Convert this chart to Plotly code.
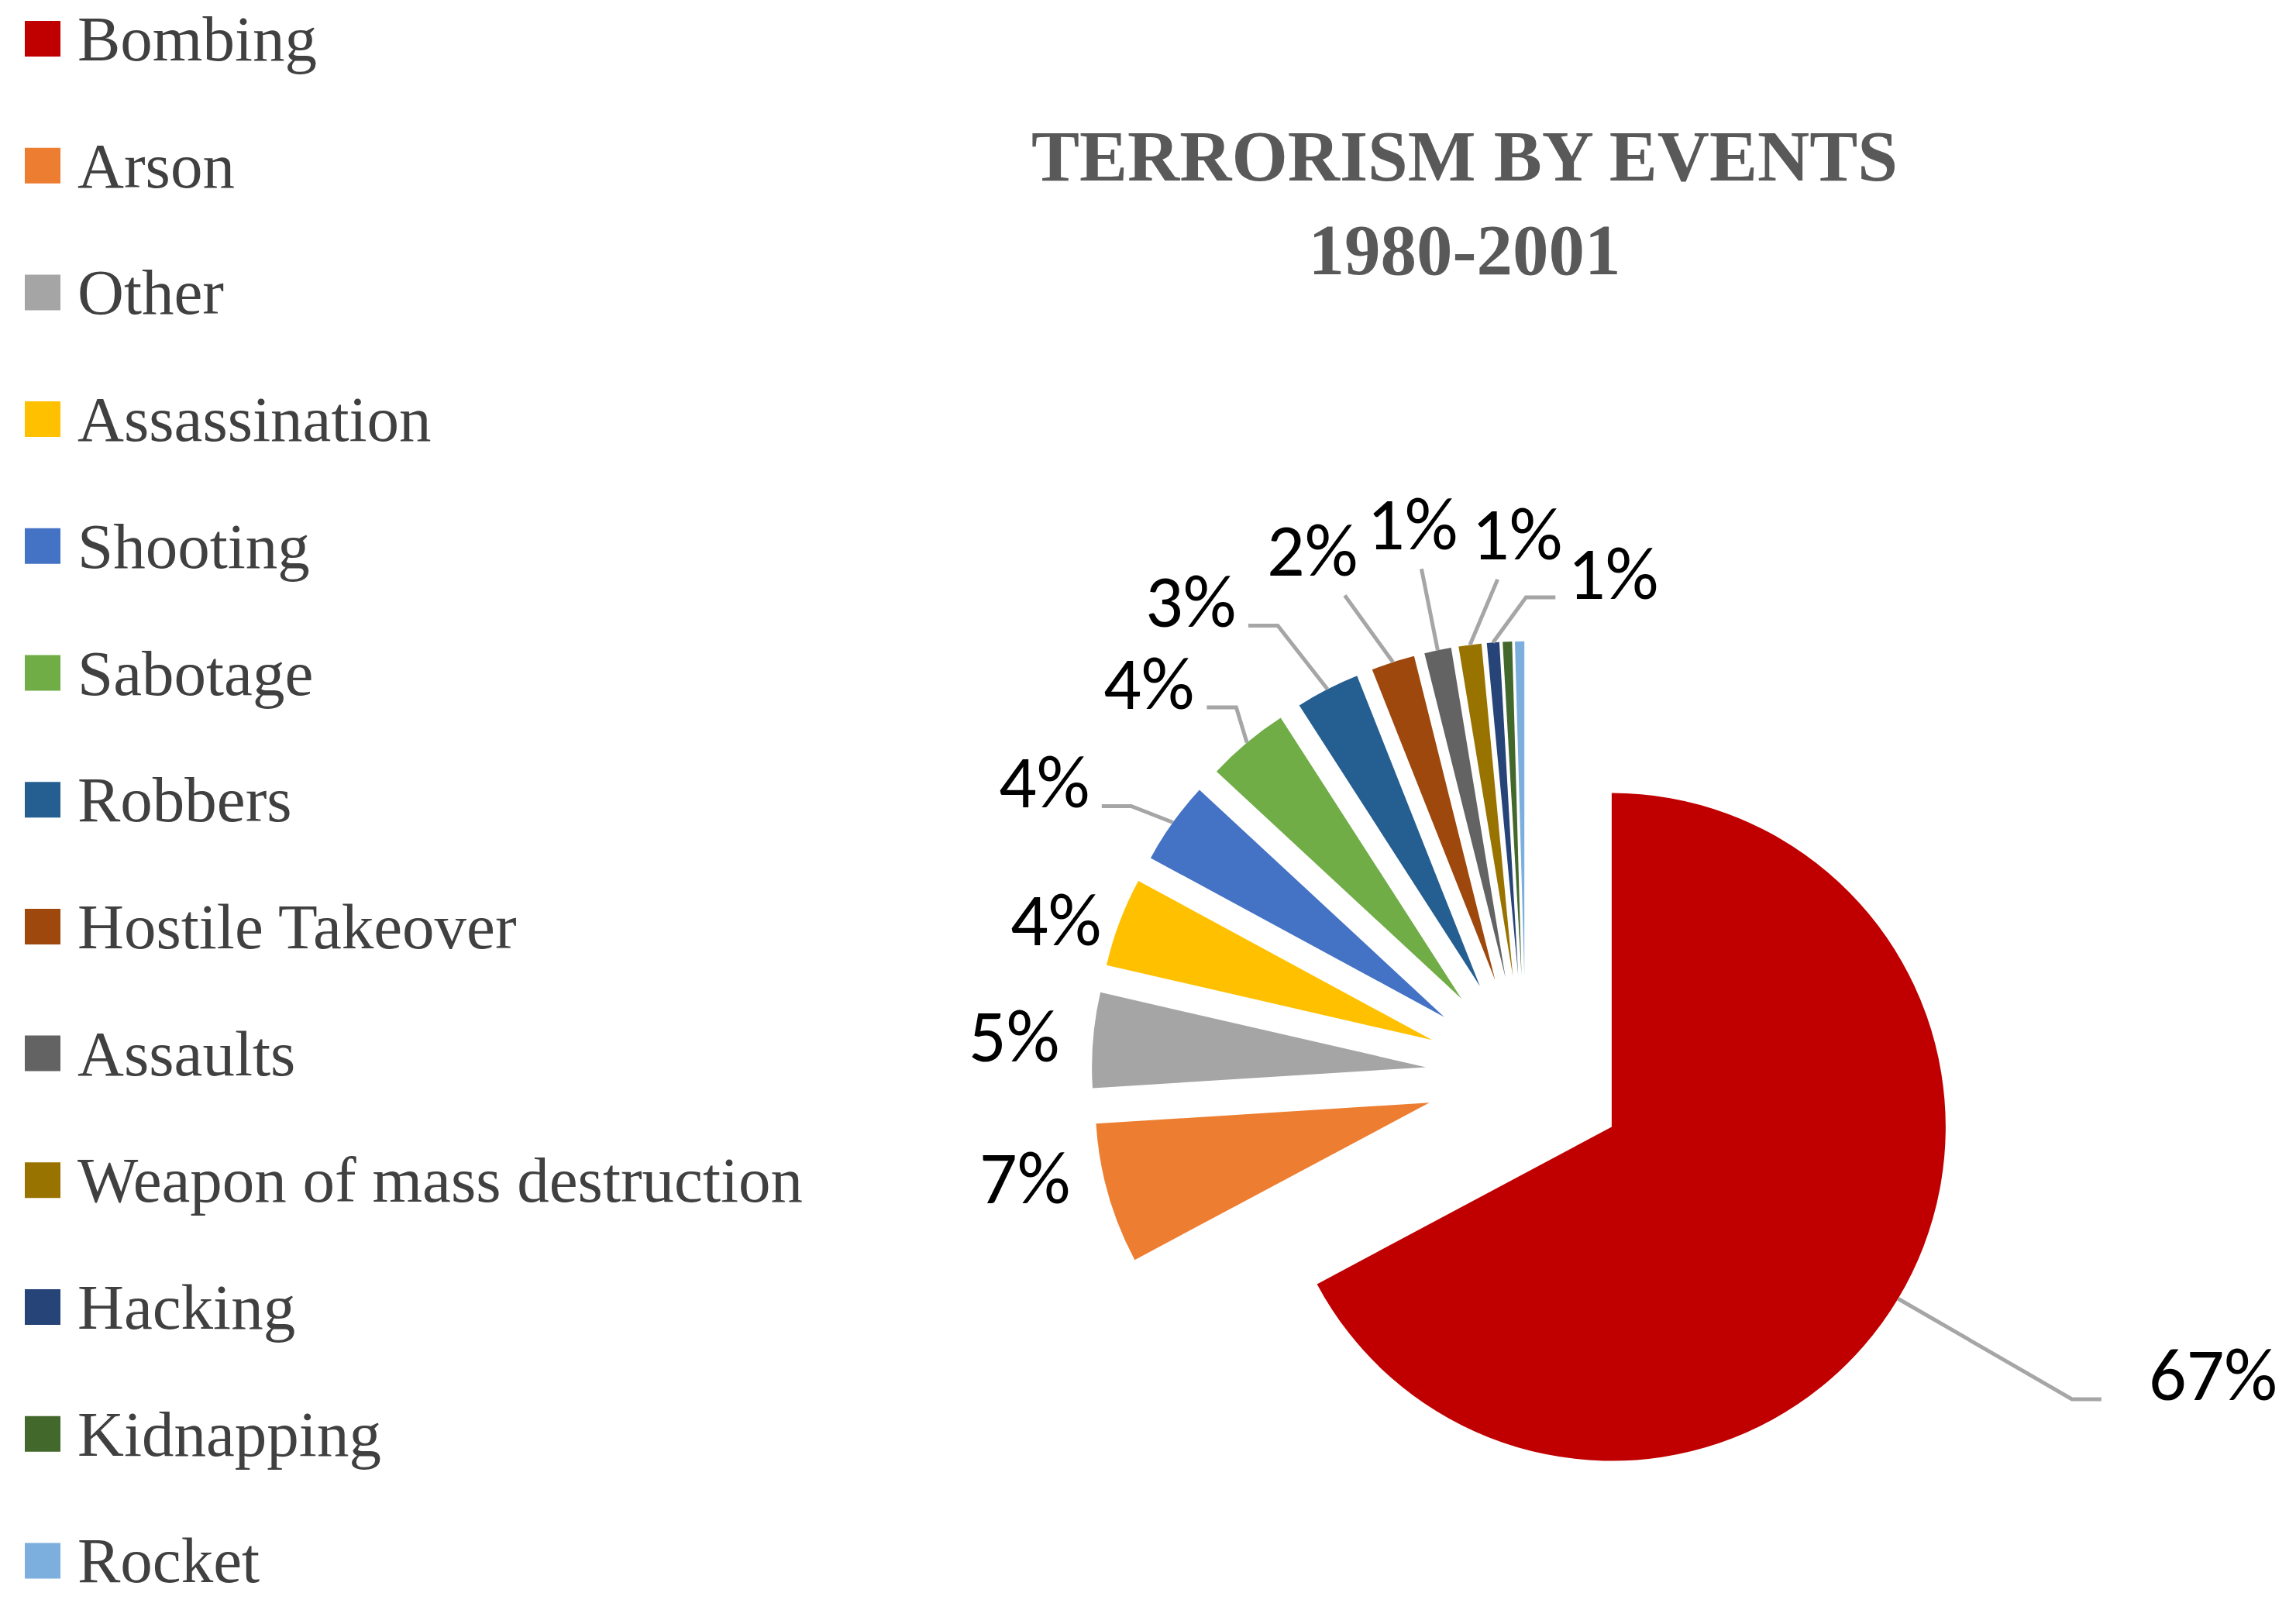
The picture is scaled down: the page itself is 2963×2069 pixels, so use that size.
import numpy as np
import plotly.graph_objects as go

# ---- data -------------------------------------------------------------
CATEGORIES = [
    "Bombing", "Arson", "Other", "Assassination", "Shooting", "Sabotage",
    "Robbers", "Hostile Takeover", "Assaults", "Weapon of mass destruction",
    "Hacking", "Kidnapping", "Rocket",
]
SHARES = [67.2, 6.8, 4.6, 4.3, 4.0, 4.0, 3.1, 2.1, 1.3, 1.1, 0.6, 0.45, 0.45]
COLORS = [
    "#C00000", "#ED7D31", "#A5A5A5", "#FFC000", "#4472C4", "#70AD47",
    "#255E91", "#9E480E", "#636363", "#997300", "#264478", "#43682B",
    "#7CAFDD",
]
TITLE_LINES = ["TERRORISM BY EVENTS", "1980-2001"]

# ---- label placement (manual, like dragged Excel labels) ---------------
# angle offset from slice bisector (deg), distance from pie centre (radii)
LABEL_ANGLE_OFFSET = [-7.4, 4.3, -0.3, -2.4, -4.3, -3.9, -8.1, -4.3, 0.1, 6.4, 14.2, None, None]
LABEL_DISTANCE = [2.246, 1.532, 1.536, 1.481, 1.689, 1.628, 1.738, 1.697, 1.686, 1.620, 1.526, None, None]
LEADER = ["elbow", None, None, None, "elbow", "elbow", "elbow",
          "straight", "straight", "straight", "elbow", None, None]

# ---- geometry ------------------------------------------------------------
W, H = 2963, 2069
CX, CY, R = 1969, 1388, 431
PULL = 0.3
LABEL_SIZE = 96
LABEL_FONT = "Carlito, Calibri, 'Liberation Sans Narrow', Lato, sans-serif"
LEADER_COLOR = "#A6A6A6"


def unit(deg):
    a = np.radians(deg)
    return np.sin(a), -np.cos(a)


def paper(x, y):
    return x / W, 1 - y / H


frac = np.array(SHARES) / sum(SHARES)
ends = np.cumsum(frac)
starts = ends - frac
mid_deg = (starts + ends) / 2 * 360

half = R * (1 + PULL)
fig = go.Figure(go.Pie(
    labels=CATEGORIES,
    values=SHARES,
    sort=False,
    direction="clockwise",
    rotation=0,
    pull=[PULL] * len(SHARES),
    marker=dict(colors=COLORS, line=dict(width=0)),
    textinfo="none",
    showlegend=False,
    domain=dict(x=[(CX - half) / W, (CX + half) / W],
                y=[(H - CY - half) / H, (H - CY + half) / H]),
))

shapes = []
annotations = []

# data labels + leader lines
for i, txt_val in enumerate(frac):
    if LABEL_DISTANCE[i] is None:
        continue
    txt = f"{round(txt_val * 100)}%"
    ux, uy = unit(mid_deg[i])
    px_, py_ = CX + PULL * R * ux, CY + PULL * R * uy
    sx, sy = px_ + R * ux, py_ + R * uy
    lx_u, ly_u = unit(mid_deg[i] + LABEL_ANGLE_OFFSET[i])
    lx, ly = CX + LABEL_DISTANCE[i] * R * lx_u, CY + LABEL_DISTANCE[i] * R * ly_u
    hw = LABEL_SIZE * (0.27 * len(txt) + 0.07)

    if LEADER[i] == "elbow":
        side = 1 if sx > lx else -1
        gap = 16 if len(txt) < 3 else 60
        ex, ey = lx + side * (hw + gap), ly + 31
        kx = ex + side * 38
        pts = [(sx, sy), (kx, ey), (ex, ey)]
    elif LEADER[i] == "straight":
        vx, vy = sx - lx, sy - ly
        t = min((hw + 16) / max(abs(vx), 1e-6), 58 / max(abs(vy), 1e-6))
        pts = [(sx, sy), (lx + t * vx, ly + t * vy)]
    else:
        pts = None

    if pts:
        path = "M " + " L ".join(
            f"{paper(x, y)[0]:.5f},{paper(x, y)[1]:.5f}" for x, y in pts)
        shapes.append(dict(type="path", xref="paper", yref="paper", path=path,
                           line=dict(color=LEADER_COLOR, width=5)))

    ax, ay = paper(lx, ly)
    annotations.append(dict(
        x=ax, y=ay, xref="paper", yref="paper", text=txt, showarrow=False,
        xanchor="center", yanchor="middle",
        font=dict(size=LABEL_SIZE, family=LABEL_FONT, color="#000000"),
    ))

# legend drawn by hand (big square keys, wide spacing)
LEG_TOP, LEG_STEP, KEY = 50, 163.7, 46
for i, name in enumerate(CATEGORIES):
    yc = LEG_TOP + i * LEG_STEP
    x0, y0 = paper(32, yc - KEY / 2)
    x1, y1 = paper(32 + KEY, yc + KEY / 2)
    shapes.append(dict(type="rect", xref="paper", yref="paper",
                       x0=x0, x1=x1, y0=y0, y1=y1,
                       fillcolor=COLORS[i], line=dict(width=0)))
    tx, ty = paper(98, yc)
    annotations.append(dict(
        x=tx, y=ty, xref="paper", yref="paper", text=name, showarrow=False,
        xanchor="left", yanchor="middle",
        font=dict(size=83, family="Liberation Serif, serif", color="#404040"),
    ))

# title
tx, ty = paper(1890, 262)
annotations.append(dict(
    x=tx, y=ty, xref="paper", yref="paper", showarrow=False,
    text="<br>".join(f"<b>{t}</b>" for t in TITLE_LINES),
    xanchor="center", yanchor="middle", align="center",
    font=dict(size=93, family="Liberation Serif, serif", color="#595959"),
))

fig.update_layout(
    width=W, height=H, autosize=False,
    margin=dict(l=0, r=0, t=0, b=0),
    paper_bgcolor="white", plot_bgcolor="white",
    shapes=shapes, annotations=annotations,
)

fig.write_html("out.html", config={"displayModeBar": False},
               post_script="document.body.style.margin='0';")
